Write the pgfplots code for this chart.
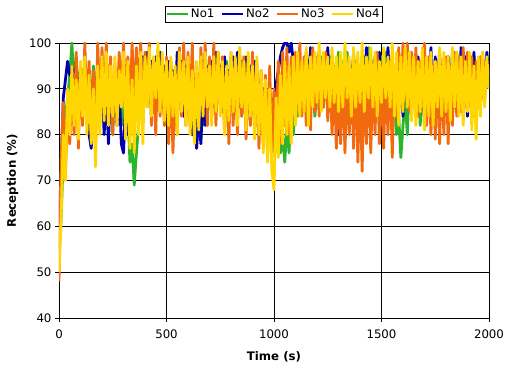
\documentclass[border=0pt]{standalone}
\usepackage{pgfplots}
\pgfplotsset{compat=1.18}
\usepackage{pgfplotstable}
\usepackage{fontspec}
\setmainfont{DejaVu Sans}
\definecolor{cgreen}{RGB}{45,180,45}
\definecolor{cblue}{RGB}{0,0,170}
\definecolor{corange}{RGB}{242,106,15}
\definecolor{cyellow}{RGB}{255,214,0}
\newcommand{\fs}{\fontsize{11.8}{13}\selectfont}

\pgfplotstableread[row sep=\\]{y\\55\\62\\75\\84\\88\\93\\
100\\90\\97\\86\\95\\88\\96\\84\\92\\86\\95\\84\\97\\88\\93\\84\\95\\82\\90\\80\\94\\86\\92\\82\\88\\
80\\86\\74\\78\\69\\76\\82\\90\\85\\94\\88\\96\\84\\94\\86\\97\\88\\95\\84\\93\\
86\\96\\88\\94\\84\\92\\86\\96\\84\\90\\82\\88\\79\\86\\80\\90\\82\\94\\86\\96\\
84\\95\\86\\98\\88\\94\\84\\96\\86\\92\\85\\96\\88\\94\\84\\95\\86\\97\\84\\92\\
82\\94\\84\\90\\80\\88\\78\\86\\76\\82\\78\\84\\76\\80\\74\\82\\76\\86\\80\\90\\
84\\94\\86\\96\\88\\95\\86\\92\\84\\90\\88\\97\\86\\95\\90\\97\\88\\95\\86\\98\\
88\\96\\90\\98\\86\\95\\84\\96\\88\\94\\86\\97\\88\\99\\90\\96\\85\\94\\86\\97\\
88\\98\\86\\95\\84\\90\\80\\84\\75\\82\\88\\80\\92\\84\\95\\86\\94\\82\\92\\84\\
95\\86\\97\\84\\94\\88\\96\\86\\94\\90\\97\\88\\95\\86\\98\\88\\96\\84\\94\\86\\
95\\85\\97\\88\\96\\86\\98\\88\\96\\90\\}\tabG

\pgfplotstableread[row sep=\\]{y\\60\\72\\88\\92\\96\\93\\
95\\90\\96\\85\\94\\88\\95\\84\\80\\77\\88\\82\\94\\86\\92\\80\\90\\78\\92\\84\\93\\82\\90\\78\\76\\
88\\80\\92\\84\\95\\86\\96\\90\\97\\88\\98\\90\\96\\88\\97\\90\\98\\86\\95\\88\\
96\\84\\94\\86\\98\\88\\96\\84\\95\\86\\92\\80\\88\\77\\84\\78\\90\\82\\95\\88\\
96\\86\\98\\88\\95\\85\\97\\88\\94\\86\\97\\88\\98\\86\\96\\88\\97\\85\\95\\90\\
96\\84\\92\\86\\90\\82\\88\\80\\86\\88\\91\\94\\97\\99\\100\\100\\98\\100\\96\\93\\
97\\88\\95\\86\\98\\90\\99\\88\\96\\92\\98\\90\\96\\88\\99\\90\\97\\86\\92\\80\\
94\\86\\97\\84\\96\\88\\98\\82\\95\\86\\97\\88\\99\\86\\96\\89\\97\\84\\98\\88\\
96\\86\\99\\90\\97\\88\\95\\86\\97\\84\\93\\88\\98\\90\\96\\86\\97\\88\\95\\82\\
96\\88\\99\\86\\97\\90\\98\\88\\96\\86\\97\\89\\98\\86\\95\\88\\99\\90\\97\\84\\
95\\86\\98\\88\\96\\88\\97\\90\\98\\92\\}\tabB

\pgfplotstableread[row sep=\\]{y\\48\\75\\87\\72\\85\\78\\
92\\80\\98\\77\\95\\82\\100\\85\\96\\80\\94\\78\\100\\84\\99\\86\\100\\82\\97\\80\\95\\84\\98\\87\\100\\
88\\97\\85\\100\\86\\99\\88\\100\\84\\98\\86\\100\\82\\96\\80\\98\\84\\95\\82\\97\\
78\\94\\76\\92\\80\\99\\84\\100\\82\\98\\85\\100\\80\\95\\83\\99\\86\\100\\82\\97\\
84\\100\\82\\98\\86\\97\\80\\95\\78\\98\\82\\96\\80\\99\\84\\97\\79\\95\\82\\98\\
80\\96\\77\\94\\78\\93\\76\\95\\75\\90\\80\\96\\78\\98\\82\\99\\80\\97\\84\\98\\
86\\100\\84\\97\\82\\95\\81\\99\\85\\97\\84\\96\\86\\98\\83\\95\\80\\93\\77\\92\\
78\\95\\76\\93\\80\\94\\77\\96\\74\\92\\72\\95\\78\\96\\76\\93\\80\\98\\78\\95\\
77\\94\\80\\96\\75\\92\\84\\99\\86\\100\\88\\100\\85\\98\\87\\99\\84\\96\\86\\100\\
82\\97\\80\\95\\79\\96\\78\\94\\80\\97\\78\\95\\82\\98\\84\\97\\85\\99\\86\\98\\
87\\97\\84\\96\\86\\97\\88\\96\\92\\95\\}\tabO

\pgfplotstableread[row sep=\\]{y\\50\\62\\80\\70\\90\\80\\
95\\82\\92\\79\\96\\84\\97\\80\\93\\78\\90\\73\\95\\80\\97\\83\\98\\82\\95\\84\\97\\82\\94\\86\\98\\
79\\96\\77\\92\\76\\95\\80\\98\\78\\97\\86\\99\\84\\97\\88\\100\\85\\98\\83\\96\\
82\\97\\84\\95\\80\\98\\85\\96\\82\\97\\80\\94\\78\\96\\81\\97\\84\\98\\86\\95\\
82\\97\\85\\98\\84\\96\\80\\95\\83\\98\\85\\97\\82\\99\\86\\96\\81\\98\\84\\95\\
79\\97\\80\\94\\76\\92\\74\\90\\72\\68\\88\\75\\93\\78\\96\\80\\95\\78\\97\\82\\
98\\84\\96\\85\\99\\82\\97\\86\\98\\87\\100\\85\\98\\88\\97\\86\\99\\87\\97\\85\\
98\\86\\100\\88\\97\\84\\99\\86\\98\\87\\100\\85\\97\\88\\99\\86\\98\\84\\96\\87\\
99\\88\\97\\86\\100\\84\\98\\82\\97\\85\\99\\86\\98\\83\\97\\82\\96\\85\\99\\81\\
97\\84\\98\\82\\96\\86\\99\\84\\98\\85\\97\\83\\99\\86\\98\\84\\97\\82\\96\\85\\
98\\81\\95\\79\\97\\84\\98\\86\\97\\90\\}\tabY

\begin{document}
\begin{tikzpicture}
\begin{axis}[
  name=ax,
  scale only axis,
  width=430bp, height=275bp,
  xmin=0, xmax=2000, ymin=40, ymax=100,
  xtick={0,500,1000,1500,2000},
  ytick={40,50,60,70,80,90,100},
  grid=major,
  grid style={black, line width=0.8bp},
  axis line style={black, line width=0.8bp},
  tick style={black, line width=0.8bp},
  tick align=outside,
  major tick length=4bp,
  xtick pos=left, ytick pos=left,
  /pgf/number format/assume math mode=true,
  /pgf/number format/1000 sep={},
  tick label style={font=\fs},
  xticklabel style={yshift=-4bp},
  xlabel={\textbf{Time (s)}},
  ylabel={\textbf{Reception (\%)}},
  label style={font=\fs},
  xlabel style={yshift=-6bp},
  ylabel style={yshift=4bp},
  legend columns=4,
  legend style={at={(0.5,1)}, anchor=south, yshift=20bp, draw=black, line width=0.8bp,
    font=\fs, inner sep=1.2bp, row sep=0bp,
    /tikz/every even column/.append style={column sep=5bp}},
  legend image code/.code={\draw[#1, line width=1.6bp] (0bp,0bp) -- (21bp,0bp);},
  every axis plot/.append style={line width=2.8bp, line join=round},
]
\addplot[cgreen] table[x expr=\coordindex*10, y=y] {\tabG};
\addplot[cblue] table[x expr=\coordindex*10, y=y] {\tabB};
\addplot[corange] table[x expr=\coordindex*10, y=y] {\tabO};
\addplot[cyellow] table[x expr=\coordindex*10, y=y] {\tabY};
\legend{No1,No2,No3,No4}
\end{axis}
\pgfresetboundingbox
\path ([xshift=-59bp,yshift=-52bp]ax.south west) rectangle ([xshift=23bp,yshift=43bp]ax.north east);
\end{tikzpicture}
\end{document}
